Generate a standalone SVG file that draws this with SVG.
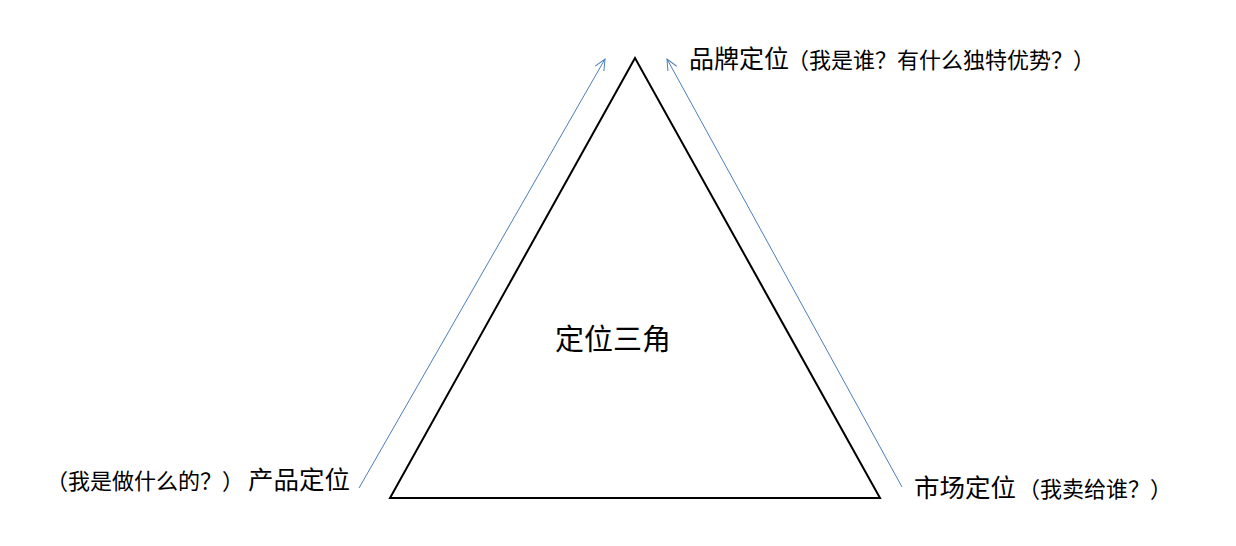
<svg xmlns="http://www.w3.org/2000/svg" width="1236" height="546" viewBox="0 0 1236 546">
<style>
.t{font-family:"Microsoft YaHei","Noto Sans CJK SC",sans-serif;fill:#000}
.arr{stroke:#4A7EBB;stroke-width:1;fill:none}
</style>
<defs>
<marker id="ah" markerUnits="userSpaceOnUse" markerWidth="14" markerHeight="14" viewBox="-12 -6 14 12" refX="0" refY="0" orient="auto">
<path d="M-11,-5 L0,0 L-11,5" fill="none" stroke="#4A7EBB" stroke-width="1"/>
</marker>
</defs>
<rect width="1236" height="546" fill="#fff"/>
<g id="triangle">
<polygon points="635,58 390,498 880,498" fill="none" stroke="#000" stroke-width="2"/>
<text class="t" x="613" y="350" font-size="29" text-anchor="middle">定位三角</text>
</g>
<g id="connectors">
<line class="arr" x1="359" y1="488" x2="605" y2="59" marker-end="url(#ah)"/>
<line class="arr" x1="902" y1="487" x2="667" y2="59" marker-end="url(#ah)"/>
</g>
<g id="brand">
<text class="t" x="689" y="68" font-size="25">品牌定位</text>
<text class="t" x="787" y="68" font-size="22">（我是谁？有什么独特优势？）</text>
</g>
<g id="product">
<text class="t" x="46" y="489" font-size="22">（我是做什么的？）</text>
<text class="t" x="248" y="489" font-size="25.5">产品定位</text>
</g>
<g id="market">
<text class="t" x="914" y="497" font-size="25.5">市场定位</text>
<text class="t" x="1018" y="497" font-size="22">（我卖给谁？）</text>
</g>
</svg>
